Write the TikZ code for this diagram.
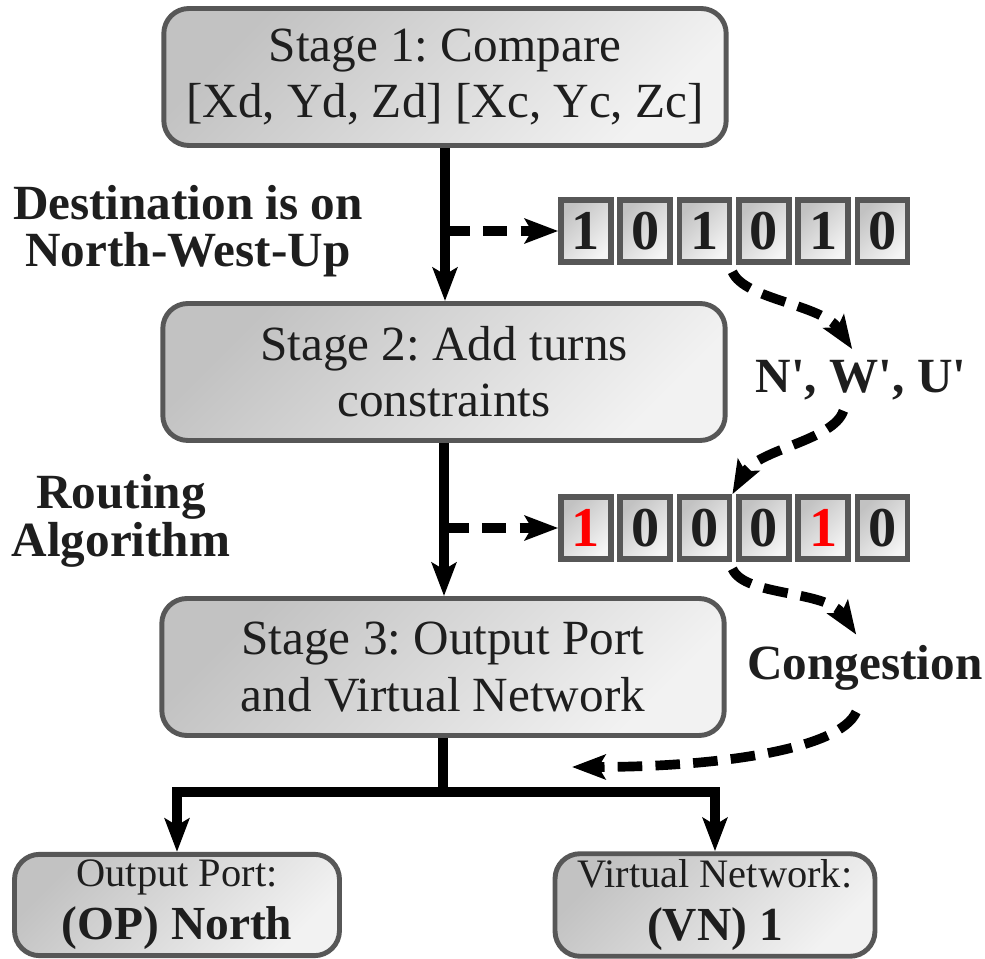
\documentclass[tikz,border=0pt]{standalone}
\usepackage{fontspec}
\setmainfont{Liberation Serif}
\usetikzlibrary{arrows.meta}
\frenchspacing
\definecolor{edge}{HTML}{575757}
\definecolor{ink}{HTML}{1E1E1E}
\tikzset{
  stage/.style={draw=edge, line width=2.8pt, rounded corners=0.5cm,
    top color=black!24, bottom color=black!5, shading angle=45,
    minimum width=11.25cm, minimum height=2.74cm, align=center, text=ink,
    font=\fontsize{28}{32}\selectfont},
  result/.style={draw=edge, line width=2.8pt, rounded corners=0.5cm,
    top color=black!24, bottom color=black!5, shading angle=45,
    minimum width=6.5cm, minimum height=1.96cm, align=center, text=ink,
    font=\fontsize{23}{30}\selectfont},
  bit/.style={draw=edge, line width=3.2pt, top color=black!24, bottom color=black!4,
    shading angle=45, minimum width=1cm, minimum height=1.24cm, inner sep=0pt,
    text=ink, font=\fontsize{32}{32}\selectfont\bfseries},
  tag/.style={align=center, inner sep=6pt, text=ink,
    font=\fontsize{28}{27}\selectfont\bfseries},
  flow/.style={line width=5.5pt, -{Stealth[length=19pt,width=14pt,inset=4pt]}},
  dashflow/.style={flow, dash pattern=on 14pt off 7.5pt},
}
\begin{document}
\begin{tikzpicture}[x=0.02cm, y=-0.02cm]
  \useasboundingbox (0,0) rectangle (985,959);
  \node[stage] (s1) at (445,77) {Stage 1: Compare\\{[Xd, Yd, Zd] [Xc, Yc, Zc]}};
  \node[stage] (s2) at (444,372) {Stage 2: Add turns\\constraints};
  \node[stage] (s3) at (443,667) {Stage 3: Output Port\\and Virtual Network};
  \node[result] (op) at (177,905) {Output Port:\\{\fontsize{27}{30}\selectfont\bfseries (OP) North}};
  \node[result, minimum width=6.4cm] (vn) at (715,905) {Virtual Network:\\{\fontsize{27}{30}\selectfont\bfseries (VN) 1}};
  \node[tag] (dest) at (188,231) {Destination is on\\North-West-Up};
  \node[tag] (route) at (121,521) {Routing\\Algorithm};
  \node[tag] (turns) at (861,380) {N\textquotesingle, W\textquotesingle, U\textquotesingle};
  \node[tag] (cong) at (865,668) {Congestion};
  \foreach \bitv [count=\i] in {1,0,1,0,1,0}
    \node[bit] (a\i) at ({526.7+59.3*\i},231) {\bitv};
  \foreach \bitv/\bitc [count=\i] in {1/red,0/ink,0/ink,0/ink,1/red,0/ink}
    \node[bit, text=\bitc] (b\i) at ({526.7+59.3*\i},528) {\bitv};
  \coordinate (fork) at (s3.south |- 0,792);
  \coordinate (back) at (572,767);
  \draw[flow] (s1.south) -- (s1.south |- s2.north);
  \draw[flow] (s2.south) -- (s2.south |- s3.north);
  \draw[flow] (s3.south) -- (fork) -| (op.north);
  \draw[flow] (fork) -| (vn.north);
  \draw[dashflow] (s1.south |- a1.west) -- (a1.west);
  \draw[dashflow] (s2.south |- b1.west) -- (b1.west);
  \draw[dashflow] ([yshift=-4pt]a3.south east) .. controls +(12,28) and +(-30,-45) .. ([xshift=-5pt]turns.north);
  \draw[dashflow] ([xshift=-10pt]turns.south) .. controls +(-10,30) and +(25,-45) .. (b3.north east);
  \draw[dashflow] ([yshift=-4pt]b3.south east) .. controls +(12,28) and +(-30,-45) .. ([xshift=-5pt]cong.north);
  \draw[dashflow] ([xshift=-5pt,yshift=-6pt]cong.south) .. controls +(-16,37) and +(148,0) .. (back);
\end{tikzpicture}
\end{document}
